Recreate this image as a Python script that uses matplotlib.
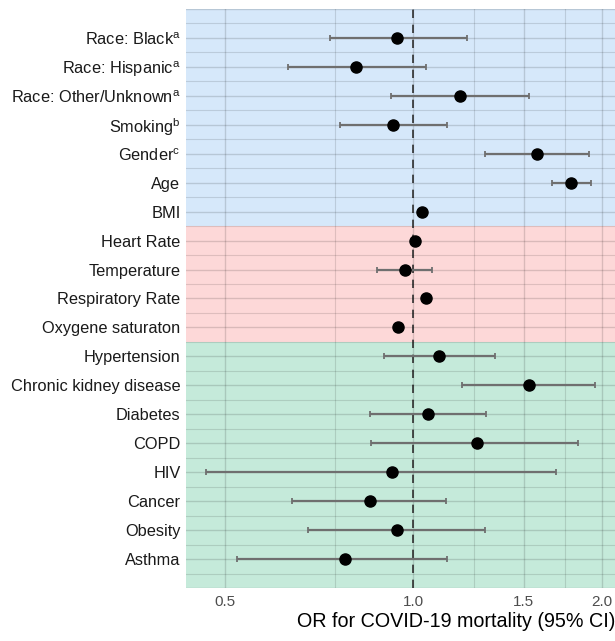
import numpy as np
import matplotlib
matplotlib.use("Agg")
import matplotlib.pyplot as plt
from matplotlib.ticker import FixedLocator, NullFormatter

plt.rcParams["font.family"] = ["Liberation Sans", "DejaVu Sans"]
plt.rcParams["mathtext.fontset"] = "custom"
plt.rcParams["mathtext.rm"] = "Liberation Sans"

# variables, top to bottom
labels = [
    "Race: Black$^{\\mathrm{a}}$", "Race: Hispanic$^{\\mathrm{a}}$",
    "Race: Other/Unknown$^{\\mathrm{a}}$", "Smoking$^{\\mathrm{b}}$",
    "Gender$^{\\mathrm{c}}$", "Age", "BMI",
    "Heart Rate", "Temperature", "Respiratory Rate", "Oxygene saturaton",
    "Hypertension", "Chronic kidney disease", "Diabetes", "COPD", "HIV",
    "Cancer", "Obesity", "Asthma",
]
groups = ["demo"] * 7 + ["vital"] * 4 + ["comorb"] * 8
odds = [0.943, 0.811, 1.187, 0.929, 1.574, 1.787, 1.032,
        1.005, 0.970, 1.048, 0.944,
        1.100, 1.530, 1.057, 1.263, 0.925, 0.854, 0.942, 0.778]
ci_low = [0.735, 0.630, 0.922, 0.765, 1.304, 1.663, 1.025,
          1.000, 0.876, 1.040, 0.938,
          0.897, 1.195, 0.854, 0.857, 0.466, 0.640, 0.679, 0.522]
ci_high = [1.219, 1.049, 1.530, 1.131, 1.905, 1.923, 1.040,
           1.010, 1.072, 1.056, 0.950,
           1.351, 1.954, 1.305, 1.833, 1.691, 1.129, 1.302, 1.133]

group_colors = {"demo": "#d6e8fa", "vital": "#fdd8d8", "comorb": "#c5eada"}

n = len(labels)
ypos = np.arange(n, 0, -1)

fig = plt.figure(figsize=(6.15, 6.41), dpi=100)
ax = fig.add_axes([186 / 615, 1 - 588 / 641, 1 - 186 / 615, (588 - 9) / 641])

# shaded group bands
for g, col in group_colors.items():
    idx = [i for i, gg in enumerate(groups) if gg == g]
    top = ypos[idx[0]] + 0.5 if idx[0] > 0 else n + 1
    bot = ypos[idx[-1]] - 0.5 if idx[-1] < n - 1 else 0
    ax.axhspan(bot, top, color=col, zorder=0, lw=0)

ax.set_xscale("log")
ax.set_xlim(0.4334, 2.10)
ax.set_ylim(0, n + 1)

major_x = [0.5, 1.0, 1.5, 2.0]
minor_x = [0.75, 1.25, 1.75]
ax.xaxis.set_major_locator(FixedLocator(major_x))
ax.xaxis.set_minor_locator(FixedLocator(minor_x))
ax.xaxis.set_minor_formatter(NullFormatter())
ax.set_xticklabels(["0.5", "1.0", "1.5", "2.0"])
ax.set_yticks(ypos)
ax.set_yticklabels(labels)
ax.set_yticks(np.arange(0.5, n + 1, 1.0), minor=True)

ax.grid(True, which="major", color="black", alpha=0.14, lw=1.0, zorder=1)
ax.grid(True, which="minor", color="black", alpha=0.12, lw=0.8, zorder=1)
for y in [0, n + 1]:
    ax.axhline(y, color="black", alpha=0.14, lw=1.0, zorder=1)
ax.set_axisbelow(False)

ax.axvline(1.0, color="#333333", lw=1.2, ls=(0, (5, 4)), zorder=2)

odds_a = np.array(odds)
err = [odds_a - np.array(ci_low), np.array(ci_high) - odds_a]
ax.errorbar(odds_a, ypos, xerr=err, fmt="none", ecolor="#6f6f6f",
            elinewidth=1.6, capsize=2.3, capthick=1.3, zorder=3)
ax.plot(odds_a, ypos, "o", color="black", ms=8, zorder=4)

for s in ax.spines.values():
    s.set_visible(False)
ax.tick_params(axis="both", which="both", length=0)
ax.tick_params(axis="y", labelsize=11.8, labelcolor="#1a1a1a", pad=4)
ax.tick_params(axis="x", labelsize=11, labelcolor="#4d4d4d", pad=5)
ax.set_xlabel("OR for COVID-19 mortality (95% CI)", fontsize=14.2,
              color="black", loc="right", labelpad=2)

fig.savefig("out.png", dpi=100)
